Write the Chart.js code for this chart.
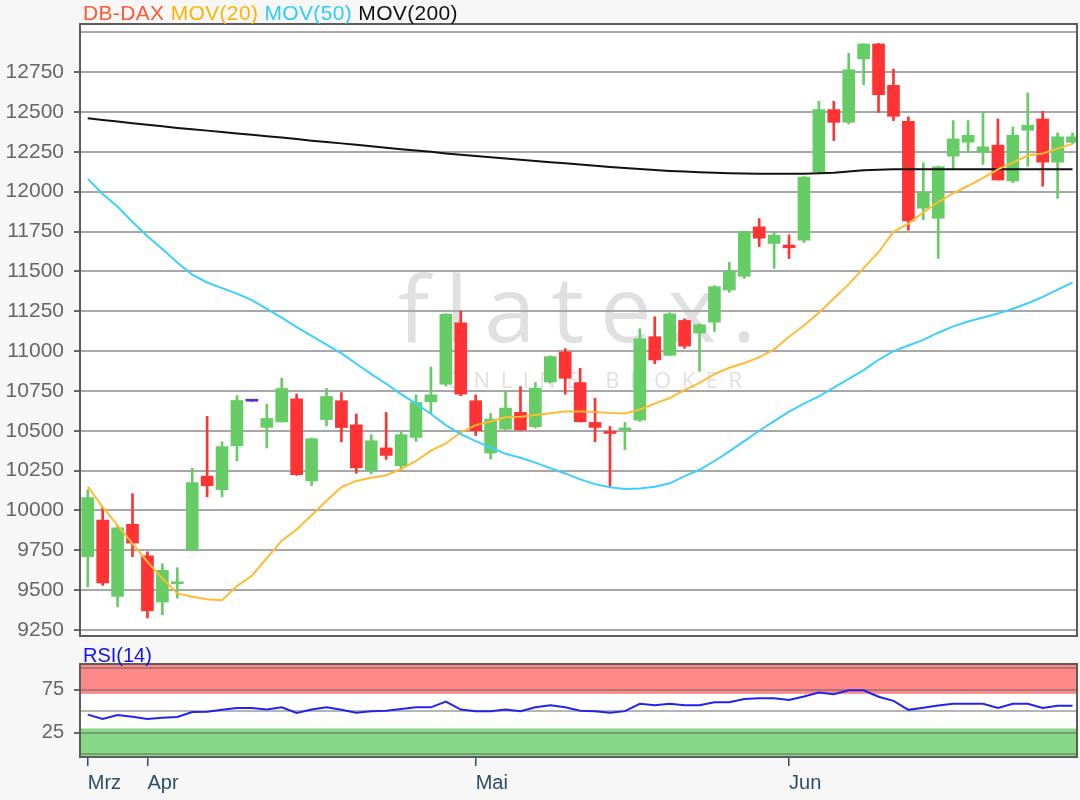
<!DOCTYPE html>
<html lang="de">
<head>
<meta charset="UTF-8">
<title>DB-DAX</title>
<script src="https://cdn.jsdelivr.net/npm/chart.js"></script>
<style>
  body { margin: 0; background: #f7f7f7; font-family: "Liberation Sans", Arial, sans-serif; }
  #wrap { position: relative; width: 1080px; height: 800px; overflow: hidden; }
  canvas { position: absolute; left: 0; }
  #mainChart { top: 0; }
  #rsiChart { top: 640px; }
  .lbl { position: absolute; white-space: nowrap; line-height: 1; }
  #title { left: 83px; top: 2px; font-size: 21px; letter-spacing: 0.35px; }
  #rsiTitle { left: 83px; top: 645px; font-size: 20px; color: #1414f0; }
</style>
</head>
<body>
<div id="wrap">
  <canvas id="mainChart" width="1080" height="640"></canvas>
  <canvas id="rsiChart" width="1080" height="160"></canvas>
  <div id="title" class="lbl"><span style="color:#ff5a36">DB-DAX</span> <span style="color:#ffb400">MOV(20)</span> <span style="color:#2ecbff">MOV(50)</span> <span style="color:#111">MOV(200)</span></div>
  <div id="rsiTitle" class="lbl">RSI(14)</div>
</div>

<script>
// daily candles, 26.03. - 26.06.
const open = [
  9710, 9940, 9460, 9913, 9715, 9425, 9540, 9750, 10215, 10130,
  10405, 10685, 10521, 10555, 10700, 10185, 10570, 10688, 10537, 10250,
  10392, 10280, 10458, 10681, 10792, 11177, 10688, 10360, 10510, 10615,
  10525, 10806, 10994, 10802, 10552, 10487, 10505, 10567, 11090, 10973,
  11192, 11113, 11181, 11383, 11469, 11779, 11675, 11665, 11696, 12125,
  12515, 12435, 12833, 12927, 12667, 12442, 11896, 11833, 12223, 12310,
  12250, 12292, 12067, 12385, 12456, 12185, 12310
];
const high = [
  10130, 10020, 9905, 10105, 9740, 9665, 9640, 10265, 10590, 10430,
  10720, 10685, 10667, 10830, 10730, 10455, 10765, 10740, 10605, 10475,
  10615, 10490, 10725, 10900, 11235, 11250, 10725, 10608, 10750, 10777,
  10802, 10970, 11015, 10892, 10704, 10527, 10552, 11140, 11215, 11240,
  11202, 11170, 11410, 11556, 11752, 11831, 11744, 11729, 12095, 12567,
  12567, 12869, 12927, 12930, 12769, 12469, 12181, 12160, 12446, 12446,
  12498, 12456, 12406, 12619, 12504, 12369, 12369
];
const low = [
  9520, 9530, 9395, 9710, 9325, 9345, 9450, 9750, 10085, 10085,
  10310, 10685, 10392, 10555, 10220, 10155, 10530, 10430, 10233, 10229,
  10320, 10260, 10433, 10608, 10780, 10719, 10470, 10323, 10504, 10504,
  10517, 10800, 10729, 10555, 10431, 10150, 10381, 10558, 10921, 10970,
  11017, 10873, 11123, 11369, 11456, 11656, 11519, 11581, 11681, 12119,
  12321, 12425, 12671, 12498, 12446, 11758, 11823, 11581, 12144, 12248,
  12171, 12073, 12056, 12160, 12035, 11958, 12300
];
const close = [
  10080, 9545, 9890, 9795, 9370, 9625, 9548, 10175, 10155, 10400,
  10690, 10685, 10577, 10765, 10225, 10450, 10715, 10520, 10267, 10437,
  10345, 10475, 10677, 10725, 11230, 10729, 10500, 10573, 10642, 10505,
  10767, 10965, 10829, 10556, 10521, 10483, 10510, 11077, 10944, 11233,
  11031, 11165, 11404, 11500, 11750, 11708, 11727, 11648, 12092, 12515,
  12435, 12765, 12927, 12608, 12473, 11817, 11994, 12156, 12331, 12354,
  12281, 12073, 12354, 12417, 12185, 12344, 12344
];
const ma20 = [
  10150, 10021, 9906, 9792, 9677, 9573, 9479, 9458, 9442, 9437,
  9525, 9590, 9700, 9810, 9880, 9970, 10060, 10146, 10185, 10205,
  10220, 10260, 10310, 10375, 10420, 10490, 10535, 10558, 10585, 10587,
  10598, 10610, 10620, 10621, 10617, 10612, 10608, 10633, 10670, 10705,
  10755, 10800, 10855, 10895, 10925, 10960, 11010, 11090, 11160, 11240,
  11330, 11420, 11520, 11620, 11748, 11800, 11870, 11935, 11990, 12037,
  12087, 12140, 12182, 12227, 12240, 12270, 12300
];
const ma50 = [
  12080, 11985, 11905, 11810, 11720, 11640, 11555, 11480, 11430, 11395,
  11360, 11320, 11265, 11210, 11150, 11095, 11040, 10985, 10920, 10855,
  10795, 10730, 10670, 10605, 10535, 10479, 10435, 10395, 10355, 10330,
  10300, 10265, 10232, 10195, 10165, 10145, 10135, 10137, 10148, 10170,
  10215, 10255, 10310, 10370, 10435, 10500, 10560, 10620, 10670, 10715,
  10770, 10825, 10880, 10945, 11000, 11035, 11070, 11115, 11155, 11185,
  11210, 11235, 11265, 11300, 11340, 11385, 11430
];
const ma200 = [
  12460, 12450, 12440, 12430, 12420, 12410, 12400, 12392, 12383, 12375,
  12365, 12357, 12348, 12340, 12330, 12320, 12312, 12303, 12295, 12285,
  12276, 12266, 12258, 12250, 12240, 12232, 12224, 12216, 12208, 12200,
  12192, 12185, 12178, 12170, 12162, 12155, 12148, 12142, 12136, 12130,
  12126, 12122, 12118, 12116, 12114, 12112, 12112, 12112, 12113, 12115,
  12118, 12126, 12135, 12138, 12140, 12140, 12140, 12140, 12140, 12140,
  12140, 12140, 12140, 12140, 12140, 12140, 12140
];
const rsi = [
  46, 41, 45.5, 43.5, 41, 42.5, 43.3, 49, 49.3, 51.5,
  53.5, 53.7, 51.8, 54.4, 48, 51.8, 54.4, 51.5, 48.1, 50,
  50.5, 52.5, 54.4, 54.4, 61, 51.8, 50, 50, 51.8, 50,
  54.4, 56.7, 54.4, 50.5, 50, 48.1, 50, 58.5, 56.7, 58.5,
  56.7, 56.7, 60.4, 60.4, 64, 64.8, 64.8, 63, 67, 71.5,
  69.5, 74.1, 74.1, 66.7, 61.9, 51.5, 54, 56.5, 58.5, 58.5,
  58.5, 53.7, 58.5, 58.5, 53.7, 56.3, 56.3
];
const months = ['Mrz', 'Apr', 'Mai', 'Jun'];
const monthIdx = [0, 4, 26, 47];
const priceTicks = [9250, 9500, 9750, 10000, 10250, 10500, 10750, 11000, 11250, 11500, 11750, 12000, 12250, 12500, 12750, 13000];
const rsiTicks = [0, 25, 50, 75, 100];
const rsiLabelled = [25, 75];

const idx = open.map((_, i) => i);
const pts = arr => idx.map(i => ({ x: i, y: arr[i] }));
const candleColor = idx.map(i => close[i] > open[i] ? '#66cc66' : (close[i] < open[i] ? '#ff3333' : '#5a2ad6'));

const xMin = -0.52, xMax = 66.3;
const noPad = s => { s.paddingTop = 0; s.paddingBottom = 0; s.paddingLeft = 0; s.paddingRight = 0; };

const framePlugin = {
  id: 'frame',
  afterDatasetsDraw(chart) {
    const { ctx, chartArea: a } = chart;
    ctx.save();
    ctx.strokeStyle = '#5c5c5c';
    ctx.lineWidth = 2;
    ctx.strokeRect(a.left, a.top, a.width, a.height);
    ctx.restore();
  }
};

const mainBg = {
  id: 'mainBg',
  beforeDraw(chart) {
    const { ctx, chartArea: a } = chart;
    ctx.save();
    ctx.fillStyle = '#ffffff';
    ctx.fillRect(a.left, a.top, a.width, a.height);
    // watermark
    ctx.fillStyle = '#e0e0e0';
    ctx.font = '500 92px "Open Sans"';
    ctx.letterSpacing = '16px';
    ctx.fillText('flatex.', 398, 342);
    ctx.font = '22px "Open Sans"';
    ctx.letterSpacing = '10.5px';
    ctx.fillText('ONLINE BROKER', 446, 388);
    ctx.restore();
  }
};

const rsiBands = {
  id: 'rsiBands',
  beforeDraw(chart) {
    const { ctx, chartArea: a, scales: { y } } = chart;
    ctx.save();
    ctx.fillStyle = '#ffffff';
    ctx.fillRect(a.left, a.top, a.width, a.height);
    const y70 = y.getPixelForValue(70), y30 = y.getPixelForValue(30);
    ctx.fillStyle = '#ff8888';
    ctx.fillRect(a.left, a.top, a.width, y70 - a.top);
    ctx.fillStyle = '#88d888';
    ctx.fillRect(a.left, y30, a.width, a.bottom - y30);
    ctx.restore();
  }
};

new Chart(document.getElementById('mainChart'), {
  type: 'bar',
  data: {
    datasets: [
      { type: 'line', label: 'MOV(200)', data: pts(ma200), borderColor: '#111111', borderWidth: 2, pointRadius: 0, order: 1 },
      { type: 'line', label: 'MOV(50)', data: pts(ma50), borderColor: '#3dd0ff', borderWidth: 2, pointRadius: 0, order: 0 },
      { type: 'line', label: 'MOV(20)', data: pts(ma20), borderColor: '#ffbb33', borderWidth: 2, pointRadius: 0, order: 0 },
      { label: 'body', data: idx.map(i => ({ x: i, y: [open[i], close[i]] })), backgroundColor: candleColor,
        barThickness: 12, minBarLength: 2, grouped: false, order: 2 },
      { label: 'wick', data: idx.map(i => ({ x: i, y: [low[i], high[i]] })), backgroundColor: candleColor,
        barThickness: 2, grouped: false, order: 3 }
    ]
  },
  options: {
    responsive: false,
    animation: false,
    devicePixelRatio: 1,
    layout: { padding: { top: 24, right: 3, bottom: 4, left: 0 } },
    plugins: { legend: { display: false }, tooltip: { enabled: false } },
    scales: {
      x: { type: 'linear', min: xMin, max: xMax, display: false, offset: false },
      y: {
        min: 9212, max: 13052,
        afterFit: s => { s.width = 80; noPad(s); },
        afterBuildTicks: s => { s.ticks = priceTicks.map(v => ({ value: v })); },
        ticks: { callback: v => v === 13000 ? '' : String(v), color: '#666666', autoSkip: false,
                 font: { family: 'Liberation Sans', size: 21 }, padding: 10 },
        grid: { color: '#a8a8a8', lineWidth: 2, tickLength: 6,
                tickColor: c => c.tick && c.tick.value === 13000 ? 'rgba(0,0,0,0)' : '#666666' },
        border: { display: false }
      }
    }
  },
  plugins: [mainBg, framePlugin]
});

new Chart(document.getElementById('rsiChart'), {
  type: 'line',
  data: {
    datasets: [
      { label: 'RSI(14)', data: pts(rsi), borderColor: '#2323ee', borderWidth: 2, pointRadius: 0 }
    ]
  },
  options: {
    responsive: false,
    animation: false,
    devicePixelRatio: 1,
    layout: { padding: { top: 24, right: 3, bottom: 0, left: 0 } },
    plugins: { legend: { display: false }, tooltip: { enabled: false } },
    scales: {
      x: {
        type: 'linear', min: xMin, max: xMax, offset: false,
        afterFit: s => { s.height = 43; noPad(s); },
        afterBuildTicks: s => { s.ticks = monthIdx.map(v => ({ value: v })); },
        ticks: { callback: v => months[monthIdx.indexOf(v)], align: 'start', autoSkip: false, maxRotation: 0,
                 color: '#2f4c68', font: { family: 'Liberation Sans', size: 20 }, padding: 5 },
        grid: { drawOnChartArea: false, tickLength: 9, color: '#2f4c68', lineWidth: 1.5 },
        border: { display: false }
      },
      y: {
        min: -3, max: 104.5,
        afterFit: s => { s.width = 80; noPad(s); },
        afterBuildTicks: s => { s.ticks = rsiTicks.map(v => ({ value: v })); },
        ticks: { callback: v => rsiLabelled.includes(v) ? String(v) : '', color: '#666666', autoSkip: false,
                 font: { family: 'Liberation Sans', size: 20 }, padding: 10 },
        grid: { color: 'rgba(90,90,90,0.45)', lineWidth: 2, tickLength: 6,
                tickColor: c => c.tick && rsiLabelled.includes(c.tick.value) ? '#666666' : 'rgba(0,0,0,0)' },
        border: { display: false }
      }
    }
  },
  plugins: [rsiBands, framePlugin]
});
</script>
</body>
</html>
